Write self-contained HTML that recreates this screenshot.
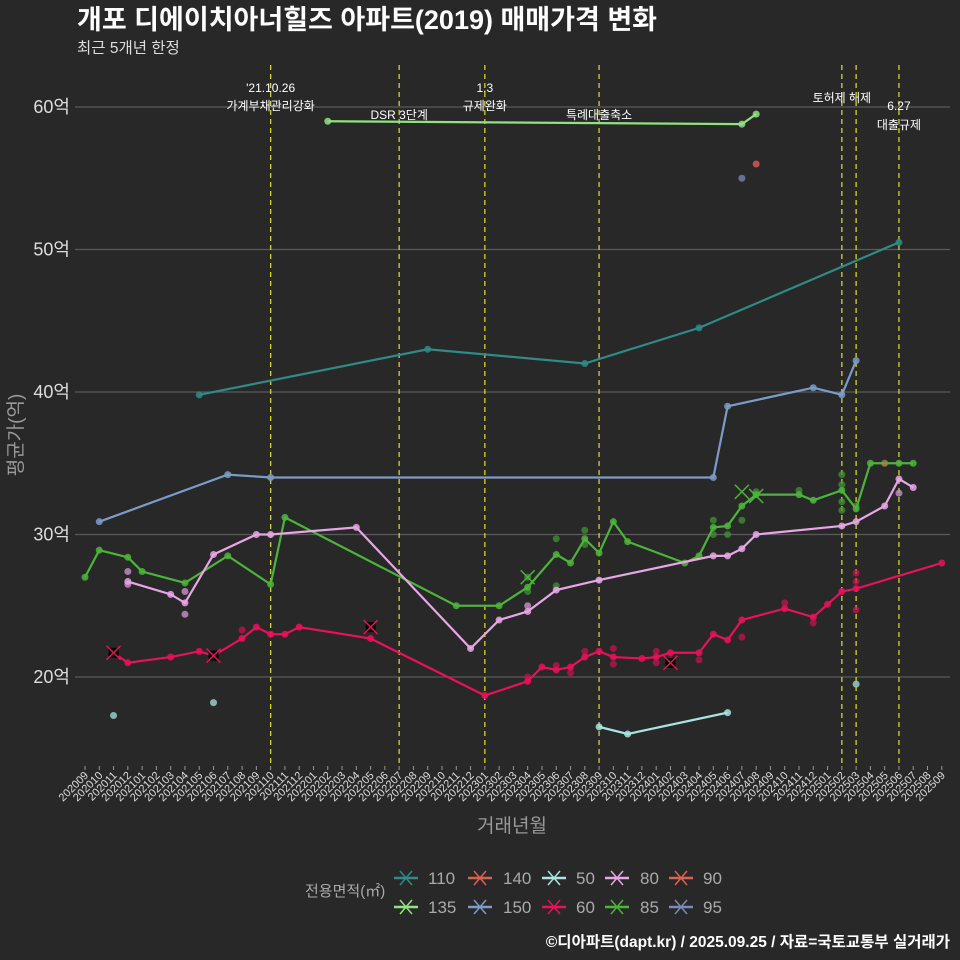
<!DOCTYPE html>
<html><head><meta charset="utf-8"><style>
body{margin:0;background:#282828;}
svg{display:block;font-family:"Liberation Sans","Noto Sans CJK KR",sans-serif;}
</style></head><body>
<svg id="c" width="960" height="960" viewBox="0 0 960 960">
<rect width="960" height="960" fill="#282828"/>
<text x="77" y="29" fill="#fff" font-size="27" font-weight="bold">개포 디에이치아너힐즈 아파트(2019) 매매가격 변화</text>
<text x="77" y="53" fill="#ddd" font-size="15.5">최근 5개년 한정</text>
<g id="grid"></g><g id="vlines"></g><g id="series"></g><g id="xt"></g><g id="yt"></g>
<text transform="translate(22,435) rotate(-90)" text-anchor="middle" fill="#999" font-size="19">평균가(억)</text>
<text x="512" y="832" text-anchor="middle" fill="#999" font-size="19">거래년월</text>
<text x="950" y="947" text-anchor="end" fill="#fff" font-size="15.5" font-weight="bold">©디아파트(dapt.kr) / 2025.09.25 / 자료=국토교통부 실거래가</text>
<g id="legend"><text x="305" y="896" fill="#aaa" font-size="15">전용면적(㎡)</text></g>
</svg>
<script>
const yTicks=[20,30,40,50,60];
const startYear=2020,startMonth=9,nMonths=61;
const eventMonths=[13,22,28,36,53,54,57];
const eventLabels=[["'21.10.26","가계부채관리강화"],["DSR 3단계"],["1.3","규제완화"],["특례대출축소"],["토허제 해제"],[],["6.27","대출규제"]];
const eventLabelY=[[92,110],[119],[92,110],[119],[102],[],[110,129]];
const s110=[[8,39.8],[24,43.0],[35,42.0],[43,44.5],[57,50.5]];
const s135=[[17,59.0],[46,58.8],[47,59.5]];
const s150=[[1,30.9],[10,34.2],[13,34.0],[44,34.0],[45,39.0],[51,40.3],[53,39.8],[54,42.2]];
const s50=[[36,16.5],[38,16.0],[45,17.5]];
const s60=[[2,21.7],[3,21.0],[6,21.4],[8,21.8],[9,21.5],[11,22.7],[12,23.5],[13,23.0],[14,23.0],[15,23.5],[20,22.7],[28,18.7],[31,19.7],[32,20.7],[33,20.5],[34,20.7],[35,21.4],[36,21.8],[37,21.4],[39,21.3],[40,21.4],[41,21.7],[43,21.7],[44,23.0],[45,22.6],[46,24.0],[49,24.8],[51,24.2],[52,25.1],[53,26.0],[54,26.2],[60,28.0]];
const s80=[[3,26.7],[6,25.8],[7,25.2],[9,28.6],[12,30.0],[13,30.0],[19,30.5],[27,22.0],[29,24.0],[31,24.6],[33,26.1],[36,26.8],[44,28.5],[45,28.5],[46,29.0],[47,30.0],[53,30.6],[54,30.9],[56,32.0],[57,33.9],[58,33.3]];
const s85=[[0,27.0],[1,28.9],[3,28.4],[4,27.4],[7,26.6],[10,28.5],[13,26.5],[14,31.2],[26,25.0],[29,25.0],[31,26.3],[33,28.6],[34,28.0],[35,29.7],[36,28.7],[37,30.9],[38,29.5],[42,28.0],[43,28.5],[44,30.5],[45,30.6],[46,32.0],[47,32.8],[50,32.8],[51,32.4],[53,33.1],[54,31.8],[55,35.0],[57,35.0],[58,35.0]];
const dots50=[[2,17.3],[9,18.2],[54,19.5]];
const dots60=[[11,23.3],[31,20.0],[33,20.8],[34,20.3],[35,21.8],[37,22.0],[37,20.9],[40,21.0],[40,21.8],[41,21.2],[43,21.2],[46,22.8],[49,25.2],[51,23.8],[54,27.3],[54,26.7],[54,24.7]];
const dots80=[[3,27.4],[3,26.5],[7,26.0],[7,24.4],[31,25.0],[57,32.9]];
const dots85=[[31,27.0],[31,26.0],[33,29.7],[33,26.4],[35,30.3],[35,29.3],[44,31.0],[44,30.0],[45,30.0],[46,31.0],[47,33.0],[50,33.1],[53,34.2],[53,33.5],[53,32.3],[53,31.7],[54,32.0]];
const dots95=[[46,55.0]];
const dots140=[[47,56.0]];
const dots90=[[56,35.0]];
const xMarks=[[2,21.7,"#e8115b"],[9,21.5,"#e8115b"],[20,23.5,"#e8115b"],[41,21.0,"#e8115b"],[31,27.0,"#4cb43a"],[46,33.0,"#4cb43a"],[47,32.7,"#4cb43a"]];
const legendKeys=["110","140","50","80","90","135","150","60","85","95"];
const legendColors=["#2e8b88","#e06050","#a8e4e0","#e7a6e6","#e06050","#90e37e","#7b9cc9","#e8115b","#4cb43a","#7a8aba"];

const NS="http://www.w3.org/2000/svg";
const X=i=>85+i*14.28, Y=v=>677-(v-20)*14.25;
function mk(tag,attrs,parent){const e=document.createElementNS(NS,tag);for(const k in attrs)e.setAttribute(k,attrs[k]);parent.appendChild(e);return e;}
const g=id=>document.getElementById(id);
yTicks.forEach(v=>{
 const l=mk('line',{x1:75,x2:950,y1:Y(v),y2:Y(v),stroke:'#5a5a5a','stroke-width':1.2},g('grid'));
 
 
 const t=mk('text',{x:70,y:Y(v)+6,'text-anchor':'end',fill:'#ddd','font-size':18},g('yt'));
 t.textContent=v+'억';
 
 
});
for(let i=0;i<nMonths;i++){
 const m=(startMonth-1+i)%12+1, yr=startYear+Math.floor((startMonth-1+i)/12);
 const tk=mk('line',{x1:X(i),x2:X(i),y1:766,y2:770,stroke:'#999'},g('xt'));
 
 
 const t=mk('text',{transform:`translate(${X(i)+4},${776}) rotate(-45)`,'text-anchor':'end',fill:'#ddd','font-size':11},g('xt'));
 t.textContent=yr+String(m).padStart(2,'0');
 
 
}
eventMonths.forEach((mi,k)=>{
 const l=mk('line',{x1:X(mi),x2:X(mi),y1:65,y2:766,stroke:'#d4d41a','stroke-width':1.3,'stroke-dasharray':'5,4'},g('vlines'));
 
 
 eventLabels[k].forEach((s,j)=>{
  const t=mk('text',{x:X(mi),y:eventLabelY[k][j],'text-anchor':'middle',fill:'#fff','font-size':12},g('vlines'));
  t.textContent=s;
  
  
 });
});
function dots(arr,color,op){arr.forEach(p=>{
 const c=mk('circle',{cx:X(p[0]),cy:Y(p[1]),r:3.5,fill:color,opacity:op},g('series'));
 
 
});}
function line(arr,color){
 const p=mk('polyline',{points:arr.map(q=>X(q[0])+','+Y(q[1])).join(' '),fill:'none',stroke:color,'stroke-width':2.2},g('series'));
 
 
 dots(arr,color,0.85);
}
dots(dots50,'#8fc4c0',0.9);dots(dots60,'#d01050',0.7);dots(dots80,'#c890c8',0.8);dots(dots85,'#3f9a32',0.7);
dots(dots95,'#6a7aa6',0.9);dots(dots140,'#d05050',0.9);dots(dots90,'#d06050',0.9);
line(s110,'#2e8b88');line(s150,'#7b9cc9');line(s85,'#4cb43a');line(s80,'#e7a6e6');line(s60,'#e8115b');line(s50,'#a8e4e0');line(s135,'#90e37e');
xMarks.forEach(m=>{
 const x=X(m[0]),y=Y(m[1]);
 const r=mk('rect',{x:x-5,y:y-5,width:10,height:10,fill:m[2]=='#e8115b'?'#000':'none'},g('series'));
 
 
 const p=mk('path',{d:`M${x-7},${y-7}L${x+7},${y+7}M${x+7},${y-7}L${x-7},${y+7}`,stroke:m[2],'stroke-width':1.5},g('series'));
 
 
});
const lx=[394,468,542,605,669], ltx=[428,503,576,640,703];
legendKeys.forEach((k,i)=>{
 const col=i%5,row=Math.floor(i/5),y=878+row*29,x=lx[col],c=legendColors[i];
 const gg=mk('g',{},g('legend'));
 
 
 mk('line',{x1:x,x2:x+24,y1:y,y2:y,stroke:c,'stroke-width':2.5},gg);
 mk('path',{d:`M${x+6},${y-7}L${x+18},${y+7}M${x+18},${y-7}L${x+6},${y+7}`,stroke:c,'stroke-width':1.5},gg);
 const t=mk('text',{x:ltx[col],y:y+6,fill:'#aaa','font-size':17},gg);
 t.textContent=k;
});
</script>
</body></html>
